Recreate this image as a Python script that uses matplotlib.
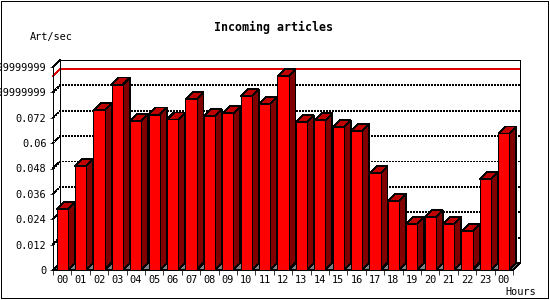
import matplotlib
matplotlib.use('Agg')
import matplotlib.pyplot as plt
from matplotlib.patches import Polygon, Rectangle

hours = ['00', '01', '02', '03', '04', '05', '06', '07', '08', '09', '10', '11',
         '12', '13', '14', '15', '16', '17', '18', '19', '20', '21', '22', '23', '00']
values = [0.0287, 0.0491, 0.0756, 0.0877, 0.0704, 0.0735, 0.0712, 0.0808, 0.0727,
          0.0741, 0.0822, 0.0784, 0.0916, 0.0699, 0.0708, 0.0675, 0.0656, 0.0457,
          0.0326, 0.0217, 0.0249, 0.0217, 0.0184, 0.0430, 0.0646]
ytick_values = [0, 0.012, 0.024, 0.036, 0.048, 0.06, 0.072, 0.084, 0.096]
ytick_labels = ['0', '0.012', '0.024', '0.036', '0.048', '0.06', '0.072',
                '0.08399999999', '0.09599999999']
title = 'Incoming articles'
ylabel = 'Art/sec'
xlabel = 'Hours'

FONT = 'DejaVu Sans Mono'
LW = 0.55  # about 1 pixel
W, H = 550, 300
fig = plt.figure(figsize=(W / 100, H / 100), dpi=100)
fig.patch.set_facecolor('white')
ax_l, ax_b, ax_w, ax_h = 53, 30, 460, 203
ax = fig.add_axes([ax_l / W, ax_b / H, ax_w / W, ax_h / H])
n = len(values)
xmin, xmax = -0.5, n - 0.5
ymin, ymax = 0, 0.096
ax.set_xlim(xmin, xmax)
ax.set_ylim(ymin, ymax)
ax.set_facecolor('none')

depth_px = 7
dx = depth_px * (xmax - xmin) / ax_w
dy = depth_px * (ymax - ymin) / ax_h
bw = 0.6

for s in ['top', 'right']:
    ax.spines[s].set_visible(False)
for s in ['left', 'bottom']:
    ax.spines[s].set_linewidth(LW)
    ax.spines[s].set_color('black')
    ax.spines[s].set_antialiased(False)

def poly(pts, fc, ec='black', z=3):
    p = Polygon(pts, closed=True, facecolor=fc, edgecolor=ec, linewidth=LW,
                clip_on=False, zorder=z, antialiased=False)
    ax.add_patch(p)

# floor
poly([(xmin, 0), (xmax, 0), (xmax + dx, dy), (xmin + dx, dy)], '#808080', z=1)

# back panel frame
kw = dict(color='black', lw=LW, clip_on=False, zorder=1.5, antialiased=False)
ax.plot([xmin + dx, xmin + dx], [dy, ymax + dy], **kw)
ax.plot([xmax + dx, xmax + dx], [dy, ymax + dy], **kw)
ax.plot([xmin + dx, xmax + dx], [ymax + dy, ymax + dy], **kw)
ax.plot([xmin, xmin + dx], [ymax, ymax + dy], **kw)

# dotted grid on back panel and left wall
for v in ytick_values[1:-1]:
    ax.plot([xmin, xmin + dx, xmax + dx], [v, v + dy, v + dy], color='black',
            lw=LW, linestyle=(0, (2.6, 2.6)), clip_on=False, zorder=1.4,
            antialiased=False)

# max line
vmax = max(values)
ax.plot([xmin, xmin + dx, xmax + dx], [vmax, vmax + dy, vmax + dy], color='#e00000',
        lw=LW, clip_on=False, zorder=1.45, antialiased=False)

# bars
for i, v in enumerate(values):
    x0, x1 = i - bw / 2, i + bw / 2
    poly([(x1, 0), (x1 + dx, dy), (x1 + dx, v + dy), (x1, v)], '#800000')
    poly([(x0, v), (x1, v), (x1 + dx, v + dy), (x0 + dx, v + dy)], '#c00000')
    poly([(x0, 0), (x1, 0), (x1, v), (x0, v)], '#ff0000')

# ticks
ax.set_xticks([i - 0.5 for i in range(n + 1)])
ax.set_xticklabels([])
ax.set_xticks(list(range(n)), minor=True)
ax.set_xticklabels(hours, minor=True, fontsize=7.4, family=FONT)
ax.tick_params(axis='x', which='major', length=3.3, width=LW, direction='out')
ax.tick_params(axis='x', which='minor', length=0, pad=3.5)
ax.set_yticks(ytick_values)
ax.set_yticklabels(ytick_labels, fontsize=7.4, family=FONT)
ax.tick_params(axis='y', length=2.2, width=LW, pad=2.5)

fig.text(274 / W, 1 - 27 / H, title, ha='center', va='center', fontsize=8.4,
         fontweight='bold', family=FONT)
fig.text(30 / W, 1 - 37 / H, ylabel, ha='left', va='center', fontsize=7.4, family=FONT)
fig.text(505 / W, 1 - 292 / H, xlabel, ha='left', va='center', fontsize=7.4, family=FONT)

fig.add_artist(Rectangle((0.5, 2.5), 547, 297, transform=None, fill=False,
                         edgecolor='black', linewidth=LW, antialiased=False))

fig.savefig('out.png', dpi=100, facecolor='white')
